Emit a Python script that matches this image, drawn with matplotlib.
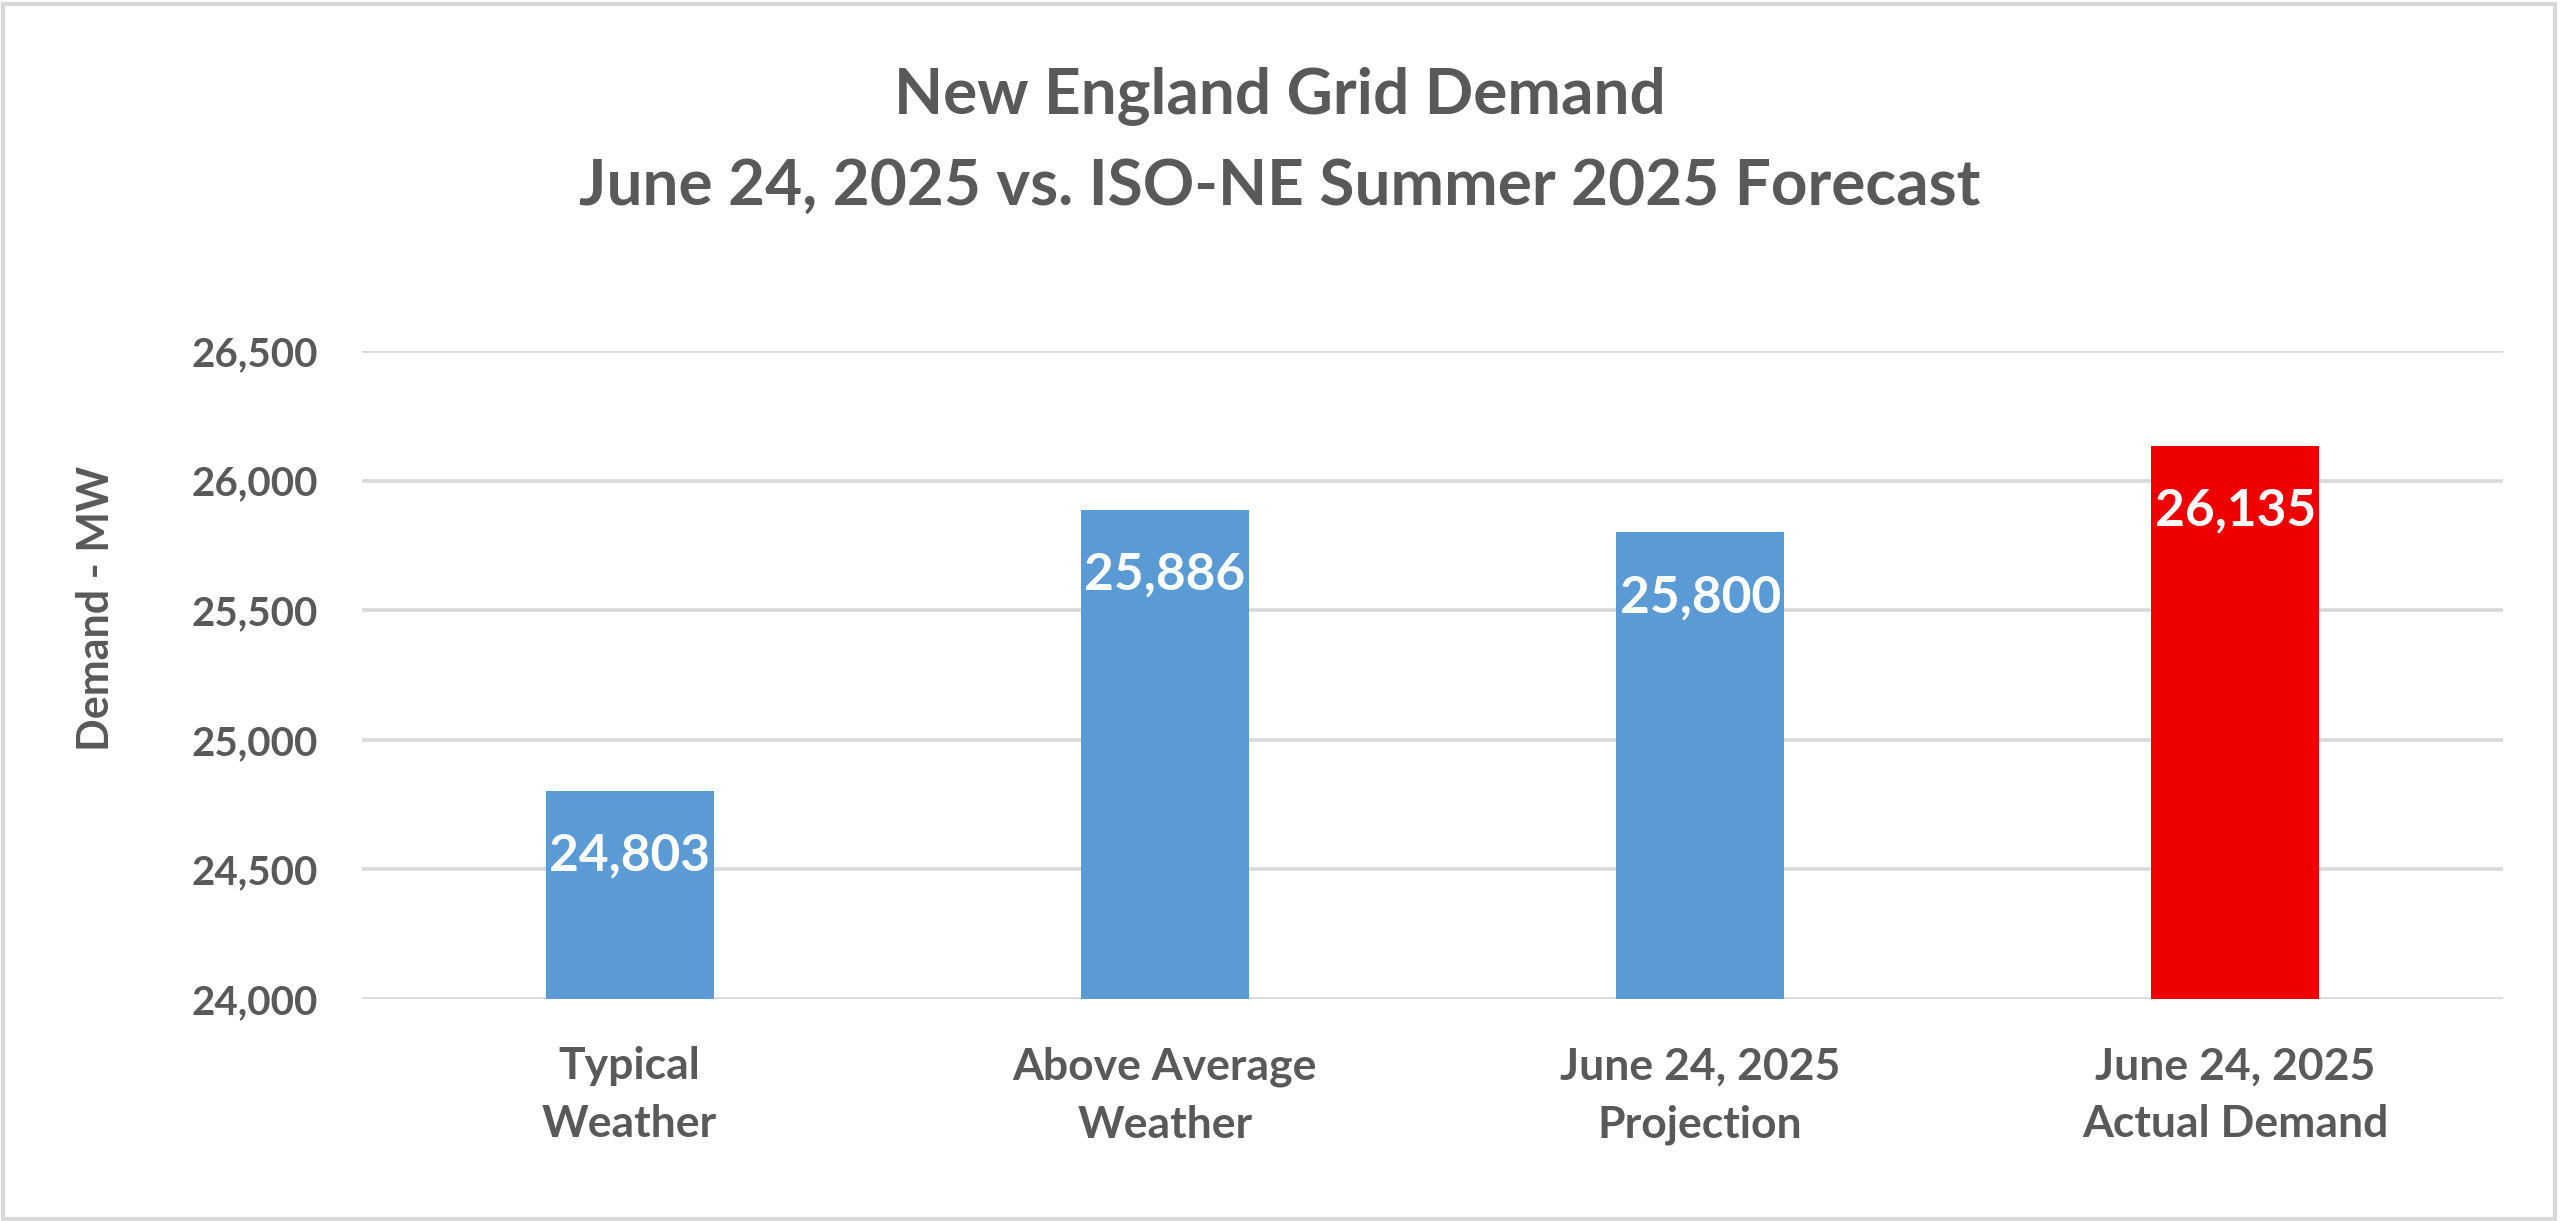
import matplotlib.pyplot as plt
from matplotlib.patches import Rectangle

categories = ['Typical\nWeather', 'Above Average\nWeather', 'June 24, 2025\nProjection', 'June 24, 2025\nActual Demand']
demand = [24803, 25886, 25800, 26135]
bar_colors = ['#5B9BD5', '#5B9BD5', '#5B9BD5', '#EE0000']
yticks = [24000, 24500, 25000, 25500, 26000, 26500]

txt = '#595959'
grid = '#D9D9D9'
plt.rcParams['font.family'] = ['Lato', 'DejaVu Sans']

W, H = 2560, 1221
fig = plt.figure(figsize=(W / 100, H / 100), dpi=100)
ax = fig.add_axes([362 / W, 1 - 999 / H, (2503 - 362) / W, (999 - 351) / H])

x = range(len(categories))
bars = ax.bar(x, demand, width=0.314, color=bar_colors, zorder=3)
ax.set_xlim(-0.5, 3.5)
ax.set_ylim(24000, 26500)
ax.set_yticks(yticks)
ax.set_yticklabels([f'{v:,}' for v in yticks], fontsize=29, fontweight='bold', color=txt)
ax.set_xticks(list(x))
ax.set_xticklabels(categories, fontsize=32, fontweight='bold', color=txt, linespacing=1.55)
ax.tick_params(length=0)
ax.tick_params(axis='y', pad=32)
ax.tick_params(axis='x', pad=34)
ax.grid(axis='y', color=grid, lw=2.6, zorder=0)
for s in ax.spines.values():
    s.set_visible(False)

for b, v in zip(bars, demand):
    ax.annotate(f'{v:,}', (b.get_x() + b.get_width() / 2, v), xytext=(0, -47),
                textcoords='offset points', ha='center', va='center',
                fontsize=37, fontweight='bold', color='white', zorder=4)

fig.text(96 / W, 1 - 608 / H, 'Demand - MW', rotation=90, ha='center', va='center',
         fontsize=31, fontweight='bold', color=txt)
fig.text(0.5, 1 - 113 / H, 'New England Grid Demand', ha='center', va='baseline',
         fontsize=46, fontweight='bold', color=txt)
fig.text(0.5, 1 - 205 / H, 'June 24, 2025 vs. ISO-NE Summer 2025 Forecast', ha='center', va='baseline',
         fontsize=46, fontweight='bold', color=txt)

fig.patches.append(Rectangle((0.001, 0.002), 0.997, 0.995, transform=fig.transFigure,
                             fill=False, edgecolor=grid, lw=3))

fig.savefig('out.png', dpi=100)
